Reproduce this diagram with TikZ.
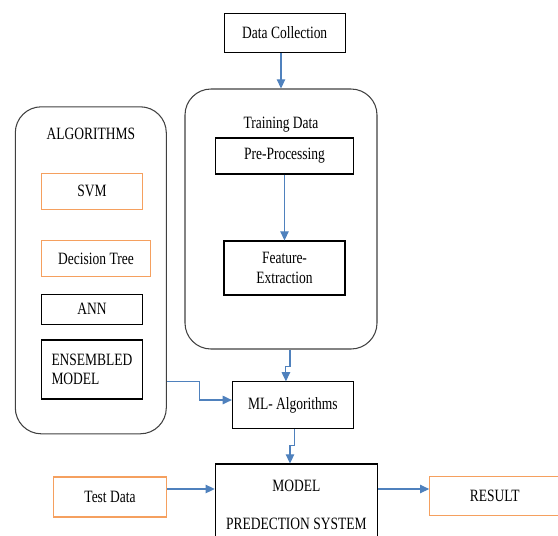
\documentclass[tikz,border=0pt]{standalone}
\usepackage{fontspec}
\setmainfont[FakeStretch=0.78]{Liberation Serif}
\usetikzlibrary{arrows.meta}
\definecolor{flowblue}{RGB}{79,129,189}
\definecolor{boxorange}{RGB}{245,160,95}
\def\px{0.025cm}
\begin{document}
\begin{tikzpicture}[x=\px, y=-\px,
    font=\fontsize{12.3}{14}\selectfont,
    box/.style = {draw, line width=0.75pt, inner sep=0pt, align=center},
    obox/.style = {box, draw=boxorange},
    group/.style = {draw=black!75, line width=0.75pt, rounded corners=26*\px, inner sep=0pt},
    flow/.style = {draw=flowblue, line width=0.8pt, -{Triangle[length=6.5pt, width=6pt]}}
  ]
    \useasboundingbox (0, 0) rectangle (558, 535);
    \clip (0, 0) rectangle (558, 535);

    \node [box, minimum width=121*\px, minimum height=39*\px] (dc) at (284.7, 33) {Data Collection};

    \node [group, minimum width=192*\px, minimum height=260*\px] (train) at (281, 219) {};
    \node (traintitle) at (281, 125) {Training Data};
    \node [box, minimum width=138*\px, minimum height=36*\px] (pre) at (284.5, 156) {Pre-Processing};
    \node [box, minimum width=121*\px, minimum height=54*\px] (feat) at (284.5, 268) {Feature-\\Extraction};

    \node [group, minimum width=151*\px, minimum height=327*\px] (algo) at (90.8, 270.3) {};
    \node (algotitle) at (90.8, 134) {ALGORITHMS};
    \node [obox, minimum width=101*\px, minimum height=36*\px] (svm) at (92, 191.2) {SVM};
    \node [obox, minimum width=109*\px, minimum height=36*\px] (dtree) at (96, 258.7) {Decision Tree};
    \node [box, minimum width=101*\px, minimum height=30*\px] (ann) at (92, 309.2) {ANN};
    \node [box, align=left, text width=81*\px, inner xsep=10*\px, minimum height=59*\px] (ens) at (92, 369.5) {ENSEMBLED\\MODEL};

    \node [box, minimum width=121*\px, minimum height=47*\px] (ml) at (292.9, 405.4) {ML- Algorithms};
    \node [box, minimum width=162*\px, minimum height=81*\px] (model) at (296.3, 504.5) {MODEL\\[13pt]PREDECTION SYSTEM};
    \node [obox, minimum width=113*\px, minimum height=40*\px] (test) at (110, 497) {Test Data};
    \node [obox, minimum width=130*\px, minimum height=39*\px] (result) at (494.7, 496.3) {RESULT};

    \coordinate (lvl) at (0, 489);

    \draw [flow] (dc.south -| train.north) -- (train.north);
    \draw [flow] (pre) -- (feat);
    \draw [flow] ([xshift=9*\px]train.south) -- ++(0, 17) -| ([xshift=-7*\px]ml.north);
    \draw [flow] (algo.east |- ml.north) -- ++(33, 0) |- ([yshift=5.4*\px]ml.west);
    \draw [flow] ([xshift=2*\px]ml.south) -- ++(0, 16) -| ([xshift=-6.3*\px]model.north);
    \draw [flow] (test.east |- lvl) -- (model.west |- lvl);
    \draw [flow] (model.east |- lvl) -- (result.west |- lvl);
  \end{tikzpicture}
\end{document}
